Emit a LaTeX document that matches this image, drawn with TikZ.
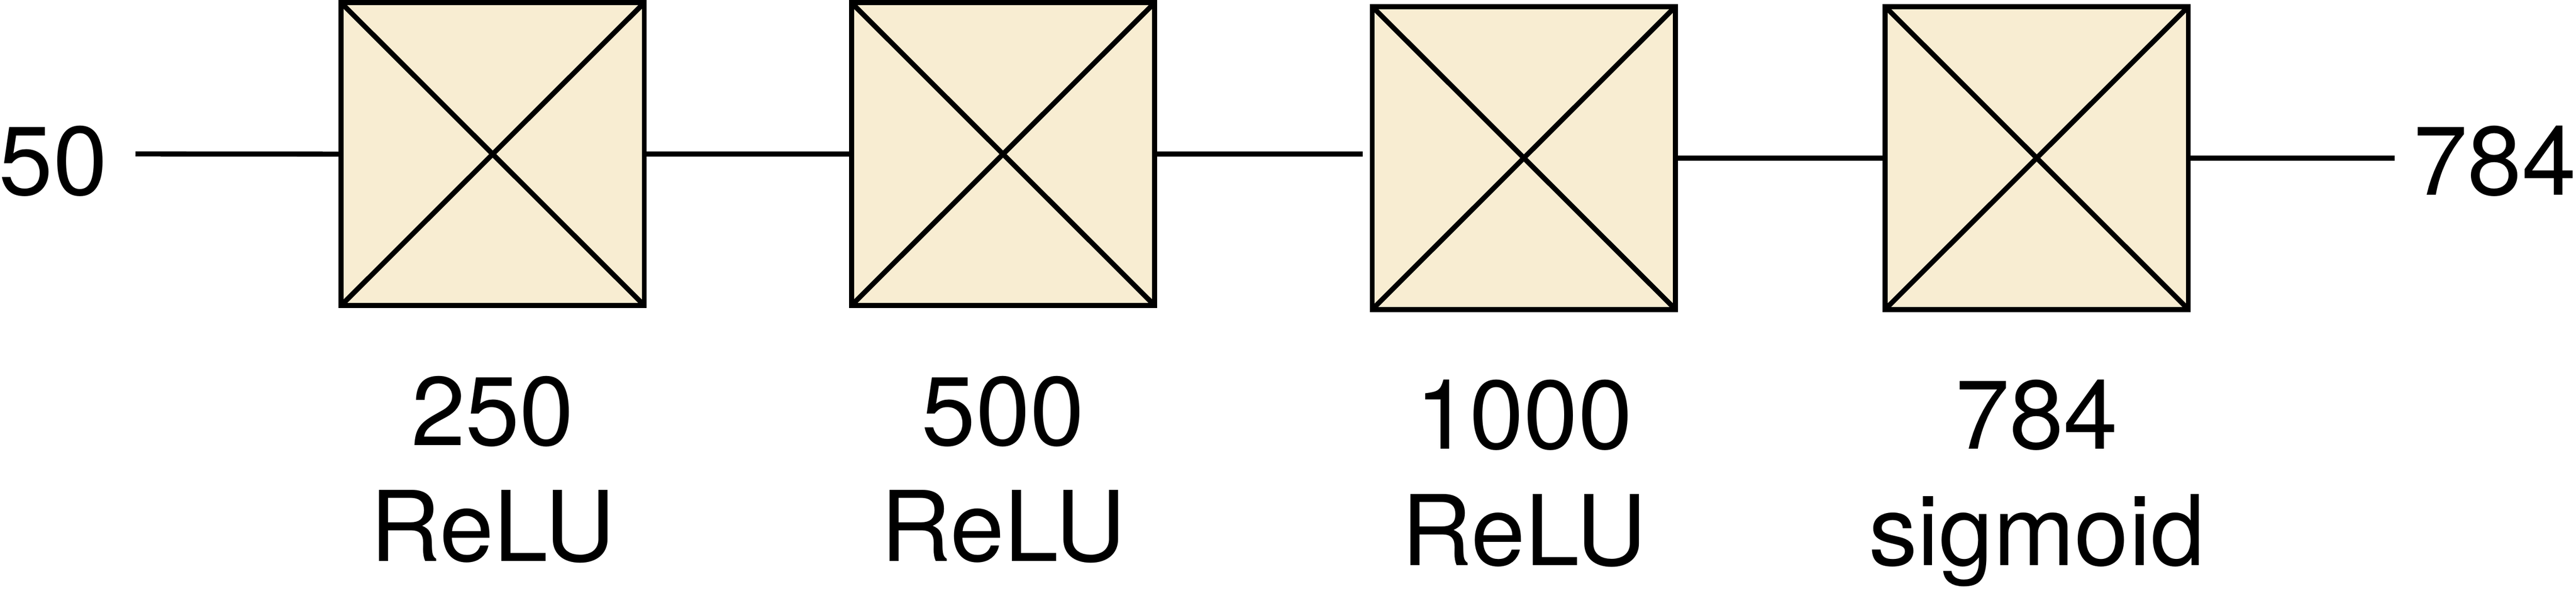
\documentclass[tikz,border=0pt]{standalone}
\usepackage{fontspec}
\setmainfont{TeX Gyre Heros}
\definecolor{boxfill}{RGB}{248,237,210}
\tikzset{
  layerbox/.style={rectangle, draw=black, fill=boxfill, line width=0.13cm,
    minimum width=7.81cm, minimum height=7.80cm, inner sep=0pt, outer sep=0pt},
  xline/.style={line width=0.13cm, black},
  wire/.style={line width=0.13cm, black},
  lbl/.style={anchor=base, inner sep=0pt, outer sep=0pt,
    font=\fontsize{71.5pt}{85pt}\selectfont}
}
\begin{document}
\begin{tikzpicture}
\useasboundingbox (0,0) rectangle (66.35,-15.78);
% boxes
\node[layerbox] (b1) at (12.69,-3.97) {};
\node[layerbox] (b2) at (25.835,-3.97) {};
\node[layerbox] (b3) at (39.25,-4.07) {};
\node[layerbox] (b4) at (52.46,-4.07) {};
\foreach \b in {b1,b2,b3,b4}{
  \draw[xline] (\b.north west) -- (\b.south east);
  \draw[xline] (\b.south west) -- (\b.north east);
}
% input / output
\node[lbl] (inlbl) at (1.37,-5.02) {50};
\node[lbl] (outlbl) at (64.26,-5.02) {784};
\coordinate (in) at (3.49,-3.965);
\coordinate (out) at (61.68,-4.07);
% connectors
\draw[wire] (in) -- (b1.west);
\draw[wire] (b1.east) -- (b2.west);
\draw[wire] (b2.east) -- ([xshift=-0.24cm]b3.west |- b2.east);
\draw[wire] (b3.east) -- (b4.west);
\draw[wire] (b4.east) -- (out);
% labels
\node[lbl] (n1) at (12.69,-11.47) {250};
\node[lbl] (a1) at (12.69,-14.46) {ReLU};
\node[lbl] (n2) at (25.835,-11.47) {500};
\node[lbl] (a2) at (25.835,-14.46) {ReLU};
\node[lbl] (n3) at (39.25,-11.57) {1000};
\node[lbl] (a3) at (39.25,-14.56) {ReLU};
\node[lbl] (n4) at (52.46,-11.57) {784};
\node[lbl] (a4) at (52.46,-14.56) {sigmoid};
\end{tikzpicture}
\end{document}
